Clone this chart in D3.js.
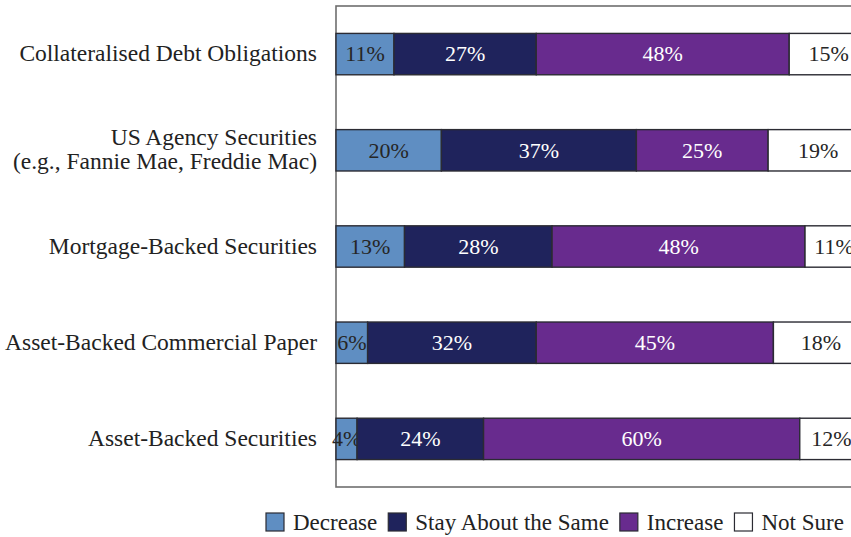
<!DOCTYPE html>
<html>
<head>
<meta charset="utf-8">
<script src="https://cdn.jsdelivr.net/npm/d3@7"></script>
<style>
    html, body { margin: 0; padding: 0; background: white; overflow: hidden; }
    text { font-family: "Liberation Serif", "DejaVu Serif", serif; }
</style>
</head>
<body>
<svg id="chart" width="851" height="537"></svg>
<script>
const categories = [
    ["Collateralised Debt Obligations"],
    ["US Agency Securities", "(e.g., Fannie Mae, Freddie Mac)"],
    ["Mortgage-Backed Securities"],
    ["Asset-Backed Commercial Paper"],
    ["Asset-Backed Securities"]
];
const seriesNames = ["Decrease", "Stay About the Same", "Increase", "Not Sure"];
const decrease = [11, 20, 13, 6, 4];
const staySame = [27, 37, 28, 32, 24];
const increase = [48, 25, 48, 45, 60];
const notSure = [15, 19, 11, 18, 12];

const colors = ["#5f8ec2", "#1f235c", "#682b8e", "#ffffff"];
const labelColors = ["#262626", "#ffffff", "#ffffff", "#262626"];

const svgSpace = d3.select("#chart");
const plotLeft = 336,
    plotTop = 6,
    plotBottom = 487;

const rows = categories.map((c, i) => ({
    key: c.join(" "),
    lines: c,
    values: [decrease[i], staySame[i], increase[i], notSure[i]]
}));

const x = d3.scaleLinear().domain([0, 100]).range([plotLeft, 863]);
const y = d3.scaleBand()
    .domain(rows.map((d) => d.key))
    .range([plotTop, plotBottom])
    .paddingInner(0.57)
    .paddingOuter(0.285);

// frame of the plot, right side runs off the page
svgSpace.append("rect")
    .attr("x", plotLeft)
    .attr("y", plotTop)
    .attr("width", 600)
    .attr("height", plotBottom - plotTop)
    .attr("fill", "none")
    .attr("stroke", "#6e6e6e")
    .attr("stroke-width", 1.6);

const rowG = svgSpace.selectAll("g.row")
    .data(rows)
    .enter()
    .append("g")
    .attr("class", "row");

const segments = rowG.selectAll("g.seg")
    .data((d) => {
        let acc = 0;
        return d.values.map((v, i) => {
            const s = { key: d.key, start: acc, value: v, series: i };
            acc += v;
            return s;
        });
    })
    .enter()
    .append("g")
    .attr("class", "seg");

segments.append("rect")
    .attr("x", (d) => x(d.start))
    .attr("y", (d) => y(d.key))
    .attr("width", (d) => x(d.start + d.value) - x(d.start))
    .attr("height", y.bandwidth())
    .attr("fill", (d) => colors[d.series])
    .attr("stroke", "#2b2b33")
    .attr("stroke-width", 1.4);

segments.append("text")
    .text((d) => d.value + "%")
    .attr("x", (d) => x(d.start + d.value / 2))
    .attr("y", (d) => y(d.key) + y.bandwidth() / 2)
    .attr("dy", "0.33em")
    .attr("fill", (d) => labelColors[d.series])
    .style("text-anchor", "middle")
    .style("font-size", "22px");

// category labels on the left
const catText = rowG.append("text")
    .attr("x", 317)
    .attr("y", (d) => y(d.key) + y.bandwidth() / 2)
    .attr("fill", "#222")
    .style("text-anchor", "end")
    .style("font-size", "23.5px");

catText.selectAll("tspan")
    .data((d) => d.lines.map((l, i) => ({ l: l, i: i, n: d.lines.length })))
    .enter()
    .append("tspan")
    .attr("x", 317)
    .attr("dy", (d) => d.i === 0 ? (0.3 - (d.n - 1) * 0.51) + "em" : "1.02em")
    .text((d) => d.l);

// legend
let legendX = 266;
seriesNames.forEach((name, i) => {
    svgSpace.append("rect")
        .attr("x", legendX)
        .attr("y", 513)
        .attr("width", 18)
        .attr("height", 18)
        .attr("fill", colors[i])
        .attr("stroke", "#2b2b33")
        .attr("stroke-width", 1.2);

    const t = svgSpace.append("text")
        .text(name)
        .attr("x", legendX + 27)
        .attr("y", 522)
        .attr("dy", "0.33em")
        .attr("fill", "#222")
        .style("font-size", "23px");

    legendX += 27 + t.node().getComputedTextLength() + 11;
});
</script>
</body>
</html>
